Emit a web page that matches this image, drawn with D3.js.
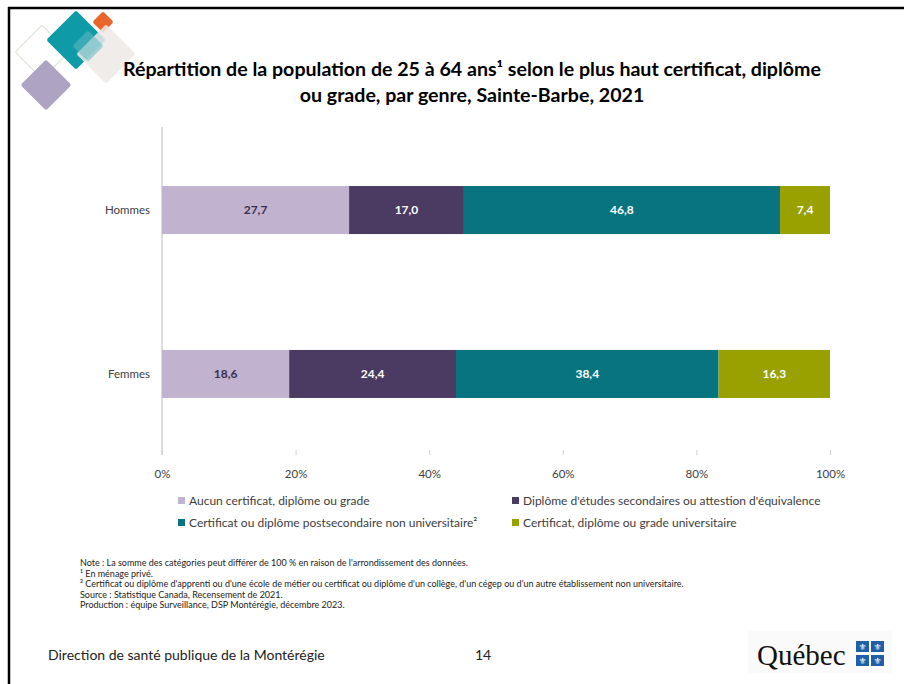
<!DOCTYPE html>
<html><head><meta charset="utf-8">
<script src="https://cdn.jsdelivr.net/npm/d3@7"></script>
<style>body{margin:0;background:#fff;}svg{display:block;}</style>
</head><body>
<svg id="c" width="904" height="684"></svg>
<script>
const categories = ["Hommes", "Femmes"];
const seriesNames = ["Aucun certificat, diplôme ou grade",
  "Diplôme d'études secondaires ou attestion d'équivalence",
  "Certificat ou diplôme postsecondaire non universitaire²",
  "Certificat, diplôme ou grade universitaire"];
const aucun = [27.7, 18.6];
const secondaire = [17.0, 24.4];
const postsec = [46.8, 38.4];
const universitaire = [7.4, 16.3];
const tickValues = [0, 0.2, 0.4, 0.6, 0.8, 1];
const tickLabels = ["0%", "20%", "40%", "60%", "80%", "100%"];
const colors = ["#c1b2d0", "#4b3a62", "#087480", "#99a100"];
const labelColors = ["#3b2f4d", "#ffffff", "#ffffff", "#ffffff"];
const notes = [
  "Note : La somme des catégories peut différer de 100 % en raison de l'arrondissement des données.",
  "¹ En ménage privé.",
  "² Certificat ou diplôme d'apprenti ou d'une école de métier ou certificat ou diplôme d'un collège, d'un cégep ou d'un autre établissement non universitaire.",
  "Source : Statistique Canada, Recensement de 2021.",
  "Production : équipe Surveillance, DSP Montérégie, décembre 2023."
];

const svg = d3.select("#c");
const F = "Lato, 'Open Sans', sans-serif";

// page border
svg.append("line").attr("x1",8).attr("x2",904).attr("y1",8).attr("y2",8).attr("stroke","#000").attr("stroke-width",2.5);
svg.append("line").attr("x1",9).attr("x2",9).attr("y1",7).attr("y2",684).attr("stroke","#000").attr("stroke-width",2.5);

// decorative logo
const deco = svg.append("g");
function diamond(cx, cy, s, fill, stroke, op) {
  deco.append("rect").attr("x",-s/2).attr("y",-s/2).attr("width",s).attr("height",s).attr("rx",2)
    .attr("transform",`translate(${cx},${cy}) rotate(45)`)
    .attr("fill",fill).attr("stroke",stroke||"none").attr("stroke-width",1).attr("opacity",op||1);
}
diamond(42, 52, 38, "none", "#d8e0cf");
diamond(46, 85, 36, "#aea3c2");
diamond(76, 40, 42, "#0f9aa8");
diamond(103, 22, 15, "#e8662c");
diamond(106, 54, 42, "#ece9e6", null, 0.85);
diamond(88, 46, 22, "#62b9c1", null, 0.55);

// title
const title = svg.append("text").attr("x",472).attr("text-anchor","middle").attr("font-family",F)
  .attr("font-weight","bold").attr("font-size",19.6).attr("fill","#000");
title.append("tspan").attr("x",472).attr("y",76).text("Répartition de la population de 25 à 64 ans¹ selon le plus haut certificat, diplôme");
title.append("tspan").attr("x",472).attr("y",102).text("ou grade, par genre, Sainte-Barbe, 2021");

// scales
const x = d3.scaleLinear().domain([0,1]).range([162,830]);
const y = d3.scaleBand().domain(categories).range([128,456]).paddingInner(0.707).paddingOuter(0.354);

const rows = categories.map((c,i)=>({cat:c, vals:[aucun[i], secondaire[i], postsec[i], universitaire[i]]}));
const data = rows.map(r=>{ const t=d3.sum(r.vals); const o={cat:r.cat}; r.vals.forEach((v,j)=>o["s"+j]=v/t); o.raw=r.vals; return o; });
const stack = d3.stack().keys(["s0","s1","s2","s3"])(data);

// axis line
svg.append("line").attr("x1",x(0)).attr("x2",x(0)).attr("y1",127).attr("y2",455).attr("stroke","#d0d0d0").attr("stroke-width",1.5);

stack.forEach((layer,j)=>{
  const g = svg.append("g");
  g.selectAll("rect").data(layer).join("rect")
    .attr("x",d=>x(d[0])).attr("width",d=>x(d[1])-x(d[0]))
    .attr("y",d=>y(d.data.cat)).attr("height",y.bandwidth())
    .attr("fill",colors[j]);
  g.selectAll("text").data(layer).join("text")
    .attr("x",d=>(x(d[0])+x(d[1]))/2).attr("y",d=>y(d.data.cat)+y.bandwidth()/2+4)
    .attr("text-anchor","middle").attr("font-family",F).attr("font-weight","bold").attr("font-size",12)
    .attr("fill",labelColors[j])
    .text(d=>d3.format(".1f")(d.data.raw[j]).replace(".",","));
});

// category labels
svg.append("g").selectAll("text").data(categories).join("text")
  .attr("x",150).attr("y",d=>y(d)+y.bandwidth()/2+4).attr("text-anchor","end")
  .attr("font-family",F).attr("font-size",11.5).attr("fill","#404040").text(d=>d);

// x axis
const ax = svg.append("g").attr("transform","translate(0,450)")
  .call(d3.axisBottom(x).tickValues(tickValues).tickFormat((d,i)=>tickLabels[i]).tickSize(5).tickPadding(15));
ax.select(".domain").remove();
ax.selectAll("line").attr("stroke","#d0d0d0");
ax.selectAll("text").attr("font-family",F).attr("font-size",11.5).attr("fill","#404040");

// legend
const legPos = [[178,501],[512,501],[178,523],[512,523]];
const leg = svg.append("g");
seriesNames.forEach((n,i)=>{
  leg.append("rect").attr("x",legPos[i][0]).attr("y",legPos[i][1]-4).attr("width",7).attr("height",7).attr("fill",colors[i]);
  leg.append("text").attr("x",legPos[i][0]+11).attr("y",legPos[i][1]+4).attr("font-family",F).attr("font-size",12)
    .attr("fill","#404040").text(n);
});

// notes
svg.append("g").selectAll("text").data(notes).join("text")
  .attr("x",80).attr("y",(d,i)=>566+i*10.6).attr("font-family",F).attr("font-size",9)
  .attr("fill","#222").text(d=>d);

// footer
svg.append("text").attr("x",48).attr("y",660).attr("font-family",F).attr("font-size",14).attr("fill","#222")
  .text("Direction de santé publique de la Montérégie");
svg.append("text").attr("x",475).attr("y",660).attr("font-family",F).attr("font-size",14).attr("fill","#222").text("14");

// Québec logo
svg.append("rect").attr("x",748).attr("y",631).attr("width",144).attr("height",42).attr("fill","#fafafa");
svg.append("text").attr("x",757).attr("y",665).attr("font-family","'Liberation Serif', 'DejaVu Serif', serif")
  .attr("font-size",29).attr("fill","#111").text("Québec");
const flag = svg.append("g");
[[856,641],[871,641],[856,655],[871,655]].forEach(p=>{
  flag.append("rect").attr("x",p[0]).attr("y",p[1]).attr("width",13).attr("height",11).attr("fill","#1f5fa8");
  flag.append("text").attr("x",p[0]+6.5).attr("y",p[1]+9).attr("text-anchor","middle").attr("font-size",9)
    .attr("fill","#fff").attr("font-family","DejaVu Sans").text("⚜");
});
</script>
</body></html>
